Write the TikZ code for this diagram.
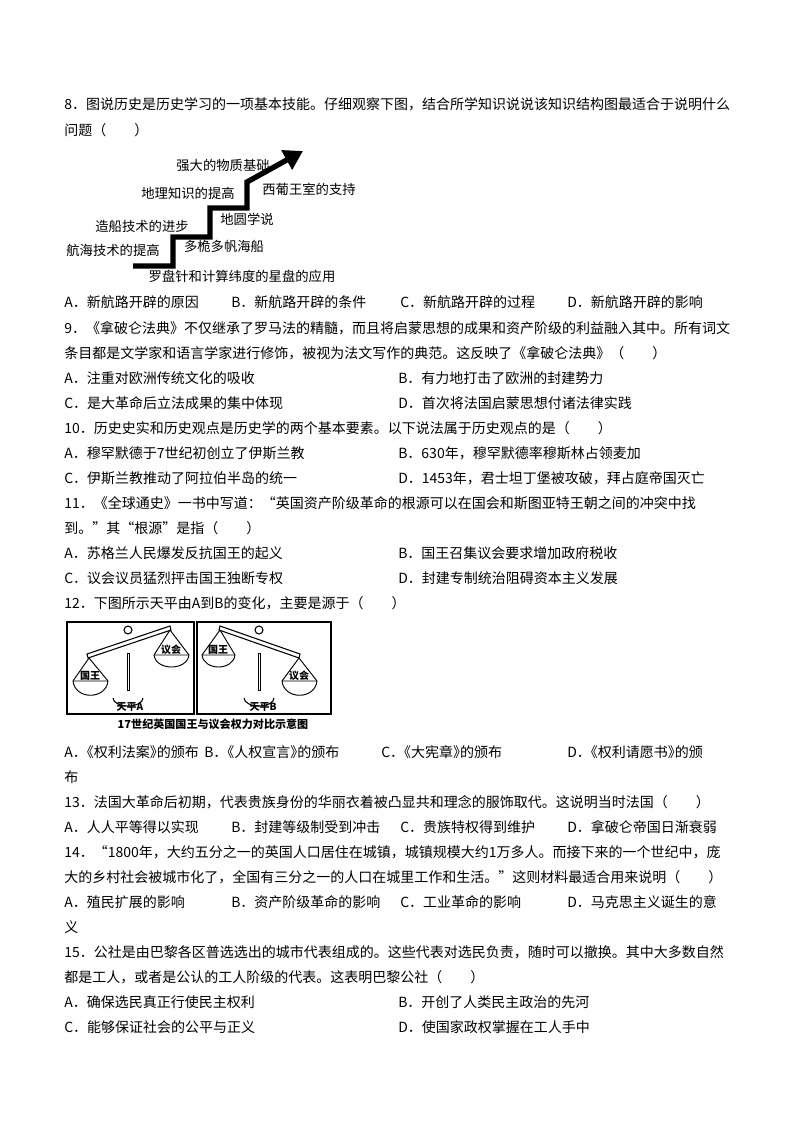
\documentclass[tikz,border=0pt]{standalone}
\usepackage{fontspec}
\newfontfamily\cjk{Noto Sans CJK SC}
\usetikzlibrary{arrows.meta}
\begin{document}
\begin{tikzpicture}[x=0.75pt,y=-0.75pt,
  txt/.style={anchor=west,inner sep=0pt,font=\cjk\fontsize{10.5}{12}\selectfont},
  lab/.style={inner sep=0pt,font=\cjk\fontsize{10}{11}\selectfont},
  blab/.style={inner sep=0pt,font=\cjk\bfseries\fontsize{7.5}{9}\selectfont},
  frame/.style={draw,line width=0.9pt}]
\useasboundingbox[fill=white] (0,0) rectangle (794,1123);
% Q8
\node[txt] (q8a) at (64,104) {8．图说历史是历史学习的一项基本技能。仔细观察下图，结合所学知识说说该知识结构图最适合于说明什么};
\node[txt] (q8b) at (64,130) {问题（\quad\quad）};
% stair figure
\draw[line width=4pt,-{Triangle[length=14pt,width=16pt]}] (133,266) -- (173,266) -- (173,237) -- (210,237) -- (210,208) -- (247,208) -- (247,182) -- (303,151);
\node[lab] (s1) at (223,165) {强大的物质基础};
\node[lab] (s2) at (188,193) {地理知识的提高};
\node[lab] (s3) at (309,189) {西葡王室的支持};
\node[lab] (s4) at (142,226) {造船技术的进步};
\node[lab] (s5) at (247,219) {地圆学说};
\node[lab] (s6) at (113,250) {航海技术的提高};
\node[lab] (s7) at (224,246) {多桅多帆海船};
\node[lab] (s8) at (242,276) {罗盘针和计算纬度的星盘的应用};
\node[txt] (q8A) at (64,302) {A．新航路开辟的原因};
\node[txt] (q8B) at (231,302) {B．新航路开辟的条件};
\node[txt] (q8C) at (400,302) {C．新航路开辟的过程};
\node[txt] (q8D) at (567,302) {D．新航路开辟的影响};
% Q9
\node[txt] (q9a) at (64,328) {9．《拿破仑法典》不仅继承了罗马法的精髓，而且将启蒙思想的成果和资产阶级的利益融入其中。所有词文};
\node[txt] (q9b) at (64,353) {条目都是文学家和语言学家进行修饰，被视为法文写作的典范。这反映了《拿破仑法典》（\quad\quad）};
\node[txt] (q9A) at (64,378) {A．注重对欧洲传统文化的吸收};
\node[txt] (q9B) at (398,378) {B．有力地打击了欧洲的封建势力};
\node[txt] (q9C) at (64,403) {C．是大革命后立法成果的集中体现};
\node[txt] (q9D) at (398,403) {D．首次将法国启蒙思想付诸法律实践};
% Q10
\node[txt] (q10a) at (64,428) {10．历史史实和历史观点是历史学的两个基本要素。以下说法属于历史观点的是（\quad\quad）};
\node[txt] (q10A) at (64,453) {A．穆罕默德于7世纪初创立了伊斯兰教};
\node[txt] (q10B) at (398,453) {B．630年，穆罕默德率穆斯林占领麦加};
\node[txt] (q10C) at (64,478) {C．伊斯兰教推动了阿拉伯半岛的统一};
\node[txt] (q10D) at (398,478) {D．1453年，君士坦丁堡被攻破，拜占庭帝国灭亡};
% Q11
\node[txt] (q11a) at (64,503) {11．《全球通史》一书中写道：“英国资产阶级革命的根源可以在国会和斯图亚特王朝之间的冲突中找};
\node[txt] (q11b) at (64,528) {到。”其“根源”是指（\quad\quad）};
\node[txt] (q11A) at (64,553) {A．苏格兰人民爆发反抗国王的起义};
\node[txt] (q11B) at (398,553) {B．国王召集议会要求增加政府税收};
\node[txt] (q11C) at (64,578) {C．议会议员猛烈抨击国王独断专权};
\node[txt] (q11D) at (398,578) {D．封建专制统治阻碍资本主义发展};
% Q12
\node[txt] (q12a) at (64,603) {12．下图所示天平由A到B的变化，主要是源于（\quad\quad）};
% balance figure
\draw[frame] (67,622) rectangle (194,714);
\draw[frame] (197,622) rectangle (331,714);
% balance A
\draw[line width=0.8pt] (128,630) circle (4);
\draw[line width=0.8pt] (87,654) -- (170,626) -- (171,630) -- (88,658) -- cycle;
\draw[line width=0.7pt] (127,653) rectangle (129.5,690);
\draw[line width=0.8pt] (113,698) arc (180:0:15 and 8);
\draw[line width=0.7pt] (89,658) -- (73,681) (89,658) -- (108,681);
\draw[line width=0.7pt] (73,681) -- (108,681) (73,681) .. controls (75,700) and (106,700) .. (108,681);
\draw[line width=0.7pt] (170,630) -- (154,655) (170,630) -- (189,655);
\draw[line width=0.7pt] (154,655) -- (189,655) (154,655) .. controls (156,671) and (187,671) .. (189,655);
\node[blab] (ga) at (90,676) {国王};
\node[blab] (ya) at (171,650) {议会};
\node[blab] (ta) at (130,707) {天平A};
% balance B
\draw[line width=0.8pt] (259,630) circle (4);
\draw[line width=0.8pt] (220,626) -- (300,654) -- (299,658) -- (219,630) -- cycle;
\draw[line width=0.7pt] (258,653) rectangle (260.5,690);
\draw[line width=0.8pt] (244,698) arc (180:0:15 and 8);
\draw[line width=0.7pt] (220,630) -- (202,655) (220,630) -- (235,655);
\draw[line width=0.7pt] (202,655) -- (235,655) (202,655) .. controls (204,671) and (233,671) .. (235,655);
\draw[line width=0.7pt] (299,658) -- (282,681) (299,658) -- (317,681);
\draw[line width=0.7pt] (282,681) -- (317,681) (282,681) .. controls (284,700) and (315,700) .. (317,681);
\node[blab] (gb) at (218,650) {国王};
\node[blab] (yb) at (299,676) {议会};
\node[blab] (tb) at (263,707) {天平B};
\node[inner sep=0pt,font=\cjk\bfseries\fontsize{8.3}{10}\selectfont] (cap) at (213,724.5) {17世纪英国国王与议会权力对比示意图};
\node[txt] (q12A) at (64,752) {A．\kern-.5em《权利法案》\kern-.5em的颁布};
\node[txt] (q12B) at (204,752) {B．\kern-.5em《人权宣言》\kern-.5em的颁布};
\node[txt] (q12C) at (381,752) {C．\kern-.5em《大宪章》\kern-.5em的颁布};
\node[txt] (q12D) at (567,752) {D．\kern-.5em《权利请愿书》\kern-.5em的颁};
\node[txt] (q12E) at (64,777) {布};
% Q13
\node[txt] (q13a) at (64,802) {13．法国大革命后初期，代表贵族身份的华丽衣着被凸显共和理念的服饰取代。这说明当时法国（\quad\quad）};
\node[txt] (q13A) at (64,827) {A．人人平等得以实现};
\node[txt] (q13B) at (231,827) {B．封建等级制受到冲击};
\node[txt] (q13C) at (400,827) {C．贵族特权得到维护};
\node[txt] (q13D) at (567,827) {D．拿破仑帝国日渐衰弱};
% Q14
\node[txt] (q14a) at (64,852) {14．“1800年，大约五分之一的英国人口居住在城镇，城镇规模大约1万多人。而接下来的一个世纪中，庞};
\node[txt] (q14b) at (64,877) {大的乡村社会被城市化了，全国有三分之一的人口在城里工作和生活。”这则材料最适合用来说明（\quad\quad）};
\node[txt] (q14A) at (64,902) {A．殖民扩展的影响};
\node[txt] (q14B) at (231,902) {B．资产阶级革命的影响};
\node[txt] (q14C) at (400,902) {C．工业革命的影响};
\node[txt] (q14D) at (567,902) {D．马克思主义诞生的意};
\node[txt] (q14E) at (64,927) {义};
% Q15
\node[txt] (q15a) at (64,952) {15．公社是由巴黎各区普选选出的城市代表组成的。这些代表对选民负责，随时可以撤换。其中大多数自然};
\node[txt] (q15b) at (64,977) {都是工人，或者是公认的工人阶级的代表。这表明巴黎公社（\quad\quad）};
\node[txt] (q15A) at (64,1002) {A．确保选民真正行使民主权利};
\node[txt] (q15B) at (398,1002) {B．开创了人类民主政治的先河};
\node[txt] (q15C) at (64,1027) {C．能够保证社会的公平与正义};
\node[txt] (q15D) at (398,1027) {D．使国家政权掌握在工人手中};
\end{tikzpicture}
\end{document}
